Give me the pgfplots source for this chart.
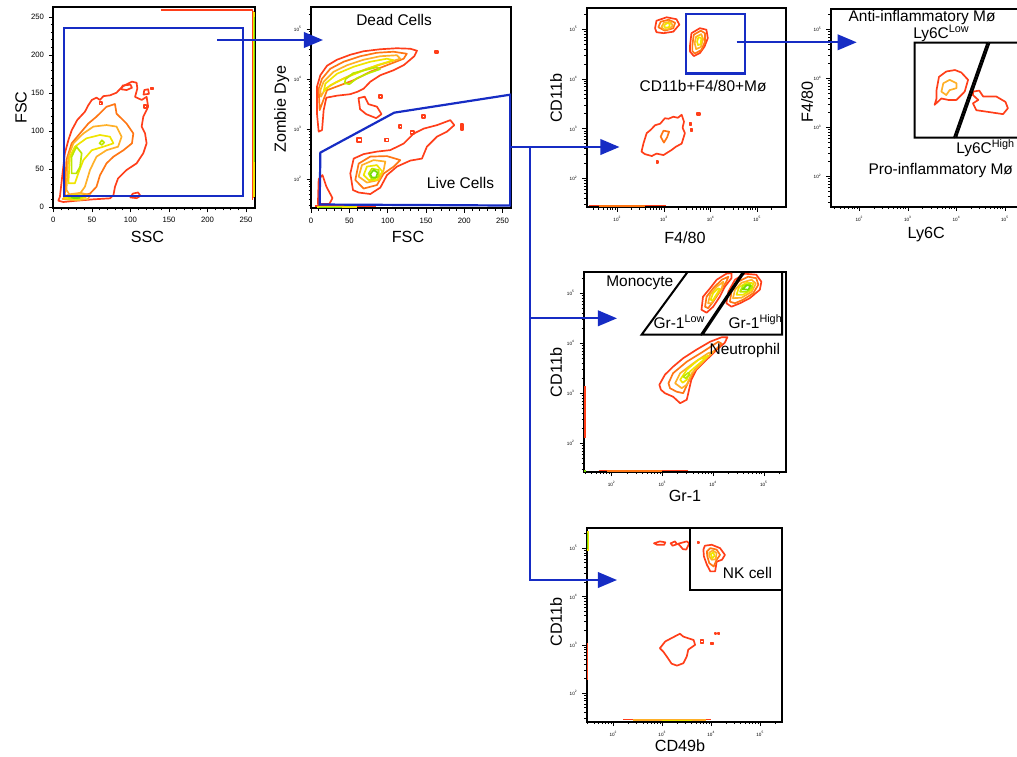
\documentclass[border=0pt]{standalone}
\usepackage{fontspec}
\setmainfont{Liberation Sans}
\usepackage{pgfplots}
\pgfplotsset{compat=1.18}
\usetikzlibrary{arrows.meta}
\definecolor{c1}{RGB}{255,62,25}
\definecolor{c2}{RGB}{255,118,20}
\definecolor{c3}{RGB}{255,176,40}
\definecolor{c4}{RGB}{240,228,0}
\definecolor{c5}{RGB}{188,232,0}
\definecolor{c6}{RGB}{118,218,0}
\definecolor{gblue}{RGB}{22,44,196}
\tikzset{
 k1/.style={draw=c1,line width=1.2pt,line join=round},
 k2/.style={draw=c2,line width=1.2pt,line join=round},
 k3/.style={draw=c3,line width=1.2pt,line join=round},
 k4/.style={draw=c4,line width=1.2pt,line join=round},
 k5/.style={draw=c5,line width=1.2pt,line join=round},
 k6/.style={draw=c6,line width=1.2pt,line join=round},
 gate/.style={draw=black,line width=0.5mm,line join=miter},
 bgate/.style={draw=gblue,line width=0.55mm},
 barrow/.style={draw=gblue,line width=0.55mm,-{Triangle[length=4.8mm,width=3.9mm]}},
 lab/.style={font=\fontsize{11.5}{13}\selectfont,inner sep=0pt},
 ann/.style={font=\fontsize{11}{12}\selectfont,inner sep=0pt,anchor=base west},
}
\pgfplotsset{
 flow/.style={scale only axis, anchor=north west, axis line style={line width=1.3pt},
   tick align=outside, xtick pos=left, ytick pos=left,
   major tick length=1.1mm, minor tick length=0.6mm, tick style={line width=0.45pt,black}},
 logx/.style={xtick={2,3,4,5},
   xticklabels={10\textsuperscript{2},10\textsuperscript{3},10\textsuperscript{4},10\textsuperscript{5}},
   minor xtick={1.477,1.602,1.699,1.778,1.845,1.903,1.954,2.301,2.477,2.602,2.699,2.778,2.845,2.903,2.954,3.301,3.477,3.602,3.699,3.778,3.845,3.903,3.954,4.301,4.477,4.602,4.699,4.778,4.845,4.903,4.954,5.301},
   xticklabel style={font=\fontsize{3.3}{4}\selectfont}},
 logy/.style={ytick={2,3,4,5},
   yticklabels={10\textsuperscript{2},10\textsuperscript{3},10\textsuperscript{4},10\textsuperscript{5}},
   minor ytick={1.477,1.602,1.699,1.778,1.845,1.903,1.954,2.301,2.477,2.602,2.699,2.778,2.845,2.903,2.954,3.301,3.477,3.602,3.699,3.778,3.845,3.903,3.954,4.301,4.477,4.602,4.699,4.778,4.845,4.903,4.954,5.301},
   yticklabel style={font=\fontsize{3.3}{4}\selectfont}},
}
\begin{document}
\begin{tikzpicture}[x=0.25mm,y=-0.25mm]
\path[use as bounding box] (0,0) rectangle (1017,756);
\coordinate (P1) at (53.3,7);
\coordinate (P2) at (311,7.3);
\coordinate (P3) at (586.7,8.3);
\coordinate (P4) at (830.7,9.3);
\coordinate (P5) at (584,271.7);
\coordinate (P6) at (586.7,528.3);

% ---------------- Panel 1: FSC vs SSC
\begin{axis}[flow, at={(P1)}, width=50.43mm, height=50.25mm,
  xmin=0, xmax=261.6, ymin=-0.9, ymax=263,
  xtick={0,50,...,250}, ytick={0,50,...,250}, minor tick num=4,
  tick label style={font=\fontsize{5.5}{6}\selectfont},
  /pgf/number format/assume math mode=true]
\addplot[k1] coordinates {(6.5,8.7)(8.6,14)(12,44.6)(15,70.9)(19.5,88)(23.8,101)(31,114.6)(41,125.5)(45.4,134)(50,141)(56,144)(60.5,141)(65,146)(73.5,147)(82,150.5)(88.6,157.5)(93,160.5)(102,165)(108,163.6)(109,156)(106,145)(114.6,141)(121,145)(123,132)(116.7,119)(114.6,106)(119,97)(121,84)(116.7,71)(108,57.7)(95,49)(84,38)(80,27)(78,16)(73.5,11.8)(52,10.5)(30,8.7)(13,7)} --cycle;
\addplot[k1] coordinates {(100,13)(103,18)(110,19.5)(113,15)(108,12)} --cycle;
\addplot[k1] coordinates {(88,155)(90,160)(100,161)(102,157)(95,154)} --cycle;
\addplot[k1] coordinates {(117,148)(118,154)(123,155)(124,149)} --cycle;
\addplot[k1] coordinates {(118,130)(118,134)(121,134)(121,130)} --cycle;
\addplot[k1] coordinates {(60,135)(60,138)(63,138)(63,135)} --cycle;
\addplot[k1] coordinates {(126,155)(126,157)(130,157)(130,155)} --cycle;
\addplot[k2] coordinates {(15,18)(17,62)(23.8,84)(34.6,97)(45.4,110)(56,119)(69,132)(80,135.6)(82,123)(95,110)(103.8,97)(102,84)(91,75)(78,66.5)(69,57.7)(60.5,42)(56,27)(47.6,18)(30,14)(17,13)} --cycle;
\addplot[k3] coordinates {(17,22.7)(19.5,66.5)(26,84)(39,97)(52,106)(69,108)(82,106)(88.6,92.7)(84,79.6)(69,75)(56,66.5)(47.6,49)(41,27)(34.6,18)(21.6,16)} --cycle;
\addplot[k4] coordinates {(19.5,31.5)(21.6,66.5)(28,79.6)(43,90.6)(60.5,95)(73.5,92.7)(78,84)(65,79.6)(50,75)(39,62)(32.4,44.6)(28,31.5)} --cycle;
\addplot[k5] coordinates {(23.8,44.6)(23.8,66.5)(30,79.6)(36.8,70.9)(34.6,53)(30,44.6)} --cycle;
\addplot[k5] coordinates {(60,84)(63,88)(66,85)(63,82)} --cycle;
\addplot[k3] coordinates {(12,11)(20,17)(35,19)(48,16)(45,11)(30,9)} --cycle;
\addplot[k4] coordinates {(15,12)(25,16)(38,16)(42,13)(30,10.5)} --cycle;
\addplot[k5] coordinates {(20,12.5)(30,15)(38,14)(32,11.5)} --cycle;
\addplot[k6] coordinates {(24,13)(32,14)(34,12.5)(27,12)} --cycle;
\addplot[k1] coordinates {(140,259.5)(258.5,259.5)(258.5,10)};
\addplot[k2] coordinates {(259.5,258)(259.5,12)};
\addplot[k4] coordinates {(260.3,257)(260.3,14)};
\addplot[k6] coordinates {(261,250)(261,60)};
\draw[bgate] (axis cs:14,15) rectangle (axis cs:246,235);
\end{axis}

% ---------------- Panel 2: Zombie Dye vs FSC
\begin{axis}[flow, logy, at={(P2)}, width=50mm, height=50.25mm,
  xmin=0, xmax=261, ymin=1.414, ymax=5.44,
  xtick={0,50,...,250}, minor x tick num=4,
  xticklabel style={font=\fontsize{5.5}{6}\selectfont},
  /pgf/number format/assume math mode=true]
\addplot[k1] coordinates {(7.8,3.85)(12.2,4.08)(20.9,4.27)(33.9,4.39)(51.3,4.49)(68.7,4.56)(90.5,4.6)(112,4.62)(129.6,4.61)(138.3,4.57)(134.8,4.46)(120.9,4.28)(107.8,4.18)(90.5,4.08)(77.4,3.95)(68.7,3.81)(60.9,3.75)(51.3,3.7)(33.9,3.67)(20,3.63)(16.5,3.38)(14.4,2.98)(10,2.95)(7.8,3.31)} --cycle;
\addplot[k1] coordinates {(62,3.62)(64,3.4)(72,3.3)(85,3.22)(92,3.3)(86,3.45)(75,3.5)(70,3.65)} --cycle;
\addplot[k1] coordinates {(89,3.62)(89,3.68)(93,3.68)(93,3.62)} --cycle;
\addplot[k1] coordinates {(145,3.22)(145,3.28)(149,3.28)(149,3.22)} --cycle;
\addplot[k1] coordinates {(115,3.02)(115,3.08)(118,3.08)(118,3.02)} --cycle;
\addplot[k1] coordinates {(97,2.75)(97,2.81)(101,2.81)(101,2.75)} --cycle;
\addplot[k1] coordinates {(60,2.74)(60,2.82)(66,2.82)(66,2.74)} --cycle;
\addplot[k1] coordinates {(196,2.98)(196,3.1)(198,3.1)(198,2.98)} --cycle;
\addplot[k1] coordinates {(162,4.53)(162,4.57)(166,4.57)(166,4.53)} --cycle;
\addplot[k1] coordinates {(130,2.9)(130,2.96)(134,2.96)(134,2.9)} --cycle;
\addplot[k2] coordinates {(10,3.81)(14.4,4.01)(25.2,4.21)(42.6,4.35)(64.4,4.46)(86,4.53)(107.8,4.55)(125,4.51)(120.9,4.41)(99,4.28)(77.4,4.15)(55.7,3.98)(38.3,3.88)(20.9,3.78)(14.4,3.51)(11.3,3.38)} --cycle;
\addplot[k3] coordinates {(12.2,3.78)(16.5,3.95)(29.6,4.15)(47,4.28)(68.7,4.39)(90.5,4.46)(112,4.48)(116.5,4.41)(94.8,4.31)(73,4.21)(51.3,4.08)(34,3.95)(18.7,3.81)(13,3.65)} --cycle;
\addplot[k4] coordinates {(18.7,3.91)(34,4.11)(55.7,4.25)(77.4,4.35)(99,4.41)(107.8,4.38)(86,4.28)(64.4,4.15)(42.6,4.01)(25.2,3.88)(16.5,3.75)} --cycle;
\addplot[k5] coordinates {(45,4.0)(55,4.12)(70,4.18)(86,4.24)(90,4.2)(75,4.12)(60,4.02)(50,3.9)(44,3.92)} --cycle;
\addplot[k1] coordinates {(54.8,1.78)(51.3,2.11)(55.7,2.41)(68.7,2.5)(86.1,2.55)(103.5,2.58)(120.9,2.71)(133.9,2.91)(147,3.01)(164.4,3.08)(181.8,3.18)(187,3.08)(177.4,2.95)(164.4,2.85)(151.3,2.65)(144.8,2.41)(129.6,2.37)(112.2,2.25)(99.2,2.08)(90.5,1.83)(77.4,1.7)(62.2,1.73)} --cycle;
\addplot[k2] coordinates {(57.8,1.98)(62.2,2.31)(77.4,2.45)(99,2.46)(116.5,2.38)(108,2.25)(94.8,2.11)(86,1.88)(68.7,1.81)} --cycle;
\addplot[k3] coordinates {(62.2,2.05)(66.5,2.28)(81.7,2.38)(97,2.35)(94.8,2.18)(88.3,1.98)(73,1.93)} --cycle;
\addplot[k4] coordinates {(68.7,2.08)(73,2.25)(86,2.28)(93,2.15)(86,1.98)(75.2,1.98)} --cycle;
\addplot[k5] coordinates {(75.2,2.11)(79.6,2.21)(88.3,2.18)(88.3,2.05)(79.6,1.99)} --cycle;
\addplot[k6] coordinates {(77.4,2.1)(81.7,2.18)(87,2.13)(85,2.03)(79.6,2.03)} --cycle;
\addplot[k1] coordinates {(9,1.5)(10,2.0)(15,2.08)(20,1.85)(28,1.62)(24,1.5)} --cycle;
\addplot[k1] coordinates {(5,1.46)(85,1.46)};
\addplot[k4] coordinates {(8,1.445)(60,1.445)};
\addplot[k6] coordinates {(10,1.432)(40,1.432)};
\draw[bgate] (axis cs:11.3,1.49) -- (axis cs:12.2,2.53) -- (axis cs:108.7,3.33) -- (axis cs:260,3.69) -- (axis cs:260,1.47) -- cycle;
\end{axis}

% ---------------- Panel 3: CD11b vs F4/80
\begin{axis}[flow, logx, logy, at={(P3)}, width=49.75mm, height=49.75mm,
  xmin=1.345, xmax=5.61, ymin=1.42, ymax=5.42]
\addplot[k1] coordinates {(2.81,5.02)(2.84,5.17)(3.06,5.24)(3.27,5.2)(3.33,5.09)(3.2,4.95)(2.99,4.92)(2.84,4.94)} --cycle;
\addplot[k2] coordinates {(2.88,5.04)(2.93,5.15)(3.1,5.19)(3.24,5.13)(3.2,5.02)(3.02,4.97)} --cycle;
\addplot[k3] coordinates {(2.95,5.05)(3,5.13)(3.14,5.15)(3.19,5.07)(3.1,5.0)(2.99,5.0)} --cycle;
\addplot[k4] coordinates {(3,5.07)(3.06,5.12)(3.13,5.11)(3.11,5.04)(3.03,5.03)} --cycle;
\addplot[k1] coordinates {(3.56,4.68)(3.59,4.92)(3.77,5.02)(3.91,4.99)(3.94,4.82)(3.87,4.65)(3.77,4.52)(3.64,4.46)(3.56,4.55)} --cycle;
\addplot[k2] coordinates {(3.61,4.68)(3.64,4.89)(3.79,4.97)(3.88,4.92)(3.88,4.75)(3.8,4.58)(3.66,4.51)(3.61,4.56)} --cycle;
\addplot[k3] coordinates {(3.66,4.72)(3.69,4.85)(3.8,4.9)(3.84,4.8)(3.79,4.64)(3.69,4.6)} --cycle;
\addplot[k4] coordinates {(3.71,4.75)(3.74,4.84)(3.8,4.82)(3.79,4.7)(3.73,4.68)} --cycle;
\addplot[k1] coordinates {(2.52,2.54)(2.56,2.7)(2.63,2.91)(2.72,2.98)(2.81,3.07)(2.92,3.1)(3.02,3.21)(3.1,3.2)(3.2,3.24)(3.3,3.22)(3.38,3.28)(3.43,3.14)(3.4,3.02)(3.45,2.91)(3.38,2.7)(3.26,2.64)(3.16,2.57)(2.99,2.47)(2.84,2.5)(2.74,2.45)(2.59,2.49)} --cycle;
\addplot[k2] coordinates {(2.93,2.84)(2.99,2.96)(3.11,2.94)(3.07,2.83)(3,2.72)} --cycle;
\addplot[k1] coordinates {(3.71,3.27)(3.71,3.31)(3.77,3.31)(3.77,3.27)} --cycle;
\addplot[k1] coordinates {(3.57,2.95)(3.57,2.99)(3.61,2.99)(3.61,2.95)} --cycle;
\addplot[k1] coordinates {(3.55,3.08)(3.55,3.12)(3.59,3.12)(3.59,3.08)} --cycle;
\addplot[k1] coordinates {(2.84,2.31)(2.84,2.35)(2.88,2.35)(2.88,2.31)} --cycle;
\addplot[k1] coordinates {(1.4,1.455)(3.05,1.455)};
\addplot[k2] coordinates {(1.6,1.445)(2.6,1.445)};
\draw[bgate] (axis cs:3.47,4.11) rectangle (axis cs:4.74,5.30);
\end{axis}

% ---------------- Panel 4: F4/80 vs Ly6C
\begin{axis}[flow, logx, logy, at={(P4)}, width=50mm, height=49.35mm,
  xmin=1.41, xmax=5.53, ymin=1.38, ymax=5.41]
\addplot[k1] coordinates {(3.59,3.76)(3.64,4.03)(3.79,4.14)(3.97,4.17)(4.1,4.12)(4.24,3.97)(4.17,3.73)(4,3.56)(3.83,3.56)(3.69,3.59)(3.55,3.46)(3.59,3.59)} --cycle;
\addplot[k3] coordinates {(3.69,3.73)(3.73,3.9)(3.86,3.97)(4,3.9)(4,3.8)(3.86,3.76)(3.79,3.66)} --cycle;
\addplot[k1] coordinates {(4.34,3.66)(4.34,3.73)(4.47,3.75)(4.55,3.63)(4.82,3.63)(5.01,3.52)(5.06,3.39)(4.96,3.27)(4.62,3.32)(4.41,3.35)(4.34,3.49)(4.45,3.56)} --cycle;
\draw[gate] (axis cs:3.14,2.79) -- (axis cs:3.14,4.73) -- (axis cs:4.64,4.73) -- (axis cs:3.95,2.79) -- cycle;
\draw[gate] (axis cs:3.99,2.79) -- (axis cs:4.68,4.73) -- (axis cs:5.6,4.73) -- (axis cs:5.6,2.79) -- cycle;
\end{axis}

% ---------------- Panel 5: CD11b vs Gr-1
\begin{axis}[flow, logx, logy, at={(P5)}, width=50.43mm, height=50mm,
  xmin=1.455, xmax=5.43, ymin=1.43, ymax=5.43]
\addplot[k1] coordinates {(2.94,3.17)(3.05,3.37)(3.21,3.53)(3.41,3.7)(3.67,3.87)(3.94,4.03)(4.17,4.12)(4.28,4.12)(4.23,4.01)(4.07,3.87)(3.87,3.67)(3.67,3.47)(3.57,3.27)(3.48,2.87)(3.35,2.8)(3.21,2.93)(3.05,3)(2.97,3.07)} --cycle;
\addplot[k2] coordinates {(3.12,3.2)(3.21,3.4)(3.48,3.63)(3.8,3.83)(4.1,4.03)(4.17,3.99)(3.94,3.77)(3.64,3.47)(3.5,3.2)(3.41,3)(3.28,3.03)(3.15,3.1)} --cycle;
\addplot[k3] coordinates {(3.25,3.2)(3.35,3.4)(3.61,3.6)(3.9,3.8)(4,3.83)(3.84,3.67)(3.58,3.4)(3.48,3.17)(3.38,3.1)} --cycle;
\addplot[k4] coordinates {(3.35,3.27)(3.48,3.47)(3.71,3.67)(3.9,3.75)(3.77,3.63)(3.54,3.43)(3.48,3.27)(3.4,3.21)} --cycle;
\addplot[k5] coordinates {(3.41,3.33)(3.51,3.41)(3.54,3.37)(3.46,3.3)} --cycle;
\addplot[k1] coordinates {(3.77,4.67)(3.8,4.93)(3.94,5.1)(4.07,5.27)(4.26,5.39)(4.36,5.4)(4.36,5.3)(4.23,5.13)(4.13,4.93)(4,4.73)(3.87,4.61)} --cycle;
\addplot[k2] coordinates {(3.84,4.73)(3.87,4.93)(4,5.1)(4.17,5.27)(4.3,5.33)(4.26,5.23)(4.13,5.03)(4,4.83)(3.9,4.7)} --cycle;
\addplot[k3] coordinates {(3.9,4.8)(3.94,4.97)(4.07,5.13)(4.2,5.23)(4.17,5.1)(4.05,4.93)(3.97,4.8)} --cycle;
\addplot[k4] coordinates {(3.95,4.87)(4,5)(4.1,5.1)(4.13,5.08)(4.05,4.95)(3.99,4.85)} --cycle;
\addplot[k1] coordinates {(4.26,4.8)(4.3,5.03)(4.43,5.27)(4.62,5.39)(4.85,5.37)(4.95,5.23)(4.92,5.07)(4.72,4.9)(4.53,4.8)(4.36,4.73)} --cycle;
\addplot[k2] coordinates {(4.33,4.83)(4.36,5.03)(4.49,5.23)(4.69,5.33)(4.85,5.3)(4.89,5.17)(4.79,5)(4.59,4.87)(4.43,4.8)} --cycle;
\addplot[k3] coordinates {(4.39,4.9)(4.43,5.07)(4.56,5.21)(4.76,5.27)(4.84,5.19)(4.76,5.03)(4.56,4.91)} --cycle;
\addplot[k4] coordinates {(4.46,4.97)(4.51,5.12)(4.66,5.21)(4.79,5.2)(4.76,5.07)(4.59,4.97)} --cycle;
\addplot[k5] coordinates {(4.53,5.03)(4.59,5.15)(4.72,5.19)(4.77,5.12)(4.66,5.03)} --cycle;
\addplot[k6] coordinates {(4.58,5.08)(4.66,5.16)(4.74,5.15)(4.69,5.07)} --cycle;
\addplot[k1] coordinates {(1.47,2.1)(1.47,3.15)};
\addplot[k1] coordinates {(1.75,1.455)(3.5,1.455)};
\addplot[k2] coordinates {(1.9,1.445)(3.0,1.445)};
\addplot[k6] coordinates {(1.46,1.44)(1.5,1.44)};
\draw[gate] (axis cs:2.59,4.17) -- (axis cs:3.5,5.43) -- (axis cs:4.59,5.43) -- (axis cs:3.76,4.17) -- cycle;
\draw[gate] (axis cs:3.79,4.17) -- (axis cs:4.62,5.43) -- (axis cs:5.36,5.43) -- (axis cs:5.36,4.17) -- cycle;
\end{axis}

% ---------------- Panel 6: CD11b vs CD49b
\begin{axis}[flow, logx, logy, at={(P6)}, width=48.75mm, height=48.35mm,
  xmin=1.455, xmax=5.44, ymin=1.41, ymax=5.41]
\addplot[k1] coordinates {(3.84,4.97)(3.87,5.05)(4.01,5.07)(4.18,5)(4.28,4.86)(4.22,4.76)(4.11,4.72)(4.08,4.52)(3.98,4.52)(3.91,4.66)(3.85,4.83)} --cycle;
\addplot[k2] coordinates {(3.91,4.93)(3.98,5)(4.11,4.97)(4.18,4.86)(4.11,4.76)(4.05,4.62)(3.96,4.69)(3.92,4.83)} --cycle;
\addplot[k3] coordinates {(3.96,4.91)(4.03,4.95)(4.11,4.9)(4.09,4.77)(4.01,4.76)(3.96,4.83)} --cycle;
\addplot[k4] coordinates {(3.99,4.88)(4.04,4.91)(4.07,4.84)(4.02,4.79)} --cycle;
\addplot[k1] coordinates {(2.83,5.1)(2.95,5.14)(3.06,5.12)(3.04,5.07)(2.89,5.07)} --cycle;
\addplot[k1] coordinates {(3.17,5.1)(3.26,5.14)(3.3,5.08)(3.21,5.05)} --cycle;
\addplot[k1] coordinates {(3.32,5.09)(3.5,5.14)(3.55,5.1)(3.49,4.97)(3.42,4.98)(3.37,5.04)} --cycle;
\addplot[k1] coordinates {(3.72,5.1)(3.72,5.13)(3.75,5.13)(3.75,5.1)} --cycle;
\addplot[k1] coordinates {(2.95,2.93)(3.06,3.07)(3.19,3.14)(3.36,3.23)(3.43,3.17)(3.64,3.1)(3.67,3)(3.53,2.9)(3.5,2.76)(3.43,2.62)(3.3,2.57)(3.19,2.61)(3.09,2.76)(3.02,2.86)} --cycle;
\addplot[k1] coordinates {(3.78,3.04)(3.78,3.1)(3.84,3.1)(3.84,3.04)} --cycle;
\addplot[k1] coordinates {(3.99,3.01)(3.99,3.05)(4.03,3.05)(4.03,3.01)} --cycle;
\addplot[k1] coordinates {(4.07,3.22)(4.07,3.25)(4.1,3.25)(4.1,3.22)} --cycle;
\addplot[k1] coordinates {(4.14,3.22)(4.14,3.25)(4.17,3.25)(4.17,3.22)} --cycle;
\addplot[k4] coordinates {(1.48,4.95)(1.48,5.36)};
\addplot[k6] coordinates {(1.47,4.99)(1.47,5.32)};
\addplot[k1] coordinates {(1.47,2.28)(1.47,3.03)};
\addplot[k1] coordinates {(2.2,1.455)(4.0,1.455)};
\addplot[k3] coordinates {(2.4,1.445)(3.9,1.445)};
\addplot[k4] coordinates {(3,1.438)(3.6,1.438)};
\draw[gate] (axis cs:3.57,4.14) rectangle (axis cs:5.44,5.41);
\end{axis}

% ---------------- axis labels
\node[lab,rotate=90] at (21,107.5) {FSC};
\node[lab] at (147.5,236.7) {SSC};
\node[lab,rotate=90] at (281.7,109) {Zombie Dye};
\node[lab] at (408,236.7) {FSC};
\node[lab,rotate=90] at (556,98.3) {CD11b};
\node[lab] at (685,237.5) {F4/80};
\node[lab,rotate=90] at (807,101.7) {F4/80};
\node[lab] at (926.3,235) {Ly6C};
\node[lab,rotate=90] at (556,372.5) {CD11b};
\node[lab] at (685,495.8) {Gr-1};
\node[lab,rotate=90] at (556,622) {CD11b};
\node[lab] at (680,745.8) {CD49b};

% ---------------- annotations
\node[ann] at (356,25) {Dead Cells};
\node[ann] at (426.7,188.3) {Live Cells};
\node[ann] at (639.3,91.7) {CD11b+F4/80+Mø};
\node[ann] at (848.3,21.7) {Anti-inflammatory Mø};
\node[ann] at (913,38.3) {Ly6C\textsuperscript{Low}};
\node[ann] at (956,153.3) {Ly6C\textsuperscript{High}};
\node[ann] at (868.3,174) {Pro-inflammatory Mø};
\node[ann] at (606,286.7) {Monocyte};
\node[ann] at (653.3,328.3) {Gr-1\textsuperscript{Low}};
\node[ann] at (728.3,328.3) {Gr-1\textsuperscript{High}};
\node[ann] at (709.3,354.3) {Neutrophil};
\node[ann] at (722.7,578.3) {NK cell};

% ---------------- arrows
\draw[barrow] (217,40) -- (323,40);
\draw[gblue,line width=0.55mm] (511,147) -- (530,147) -- (530,580.3);
\draw[barrow] (529,147) -- (619.5,147);
\draw[barrow] (529,318.3) -- (617,318.3);
\draw[barrow] (529,580) -- (617,580);
\draw[barrow] (736.7,42.3) -- (856.7,42.3);
\end{tikzpicture}
\end{document}
